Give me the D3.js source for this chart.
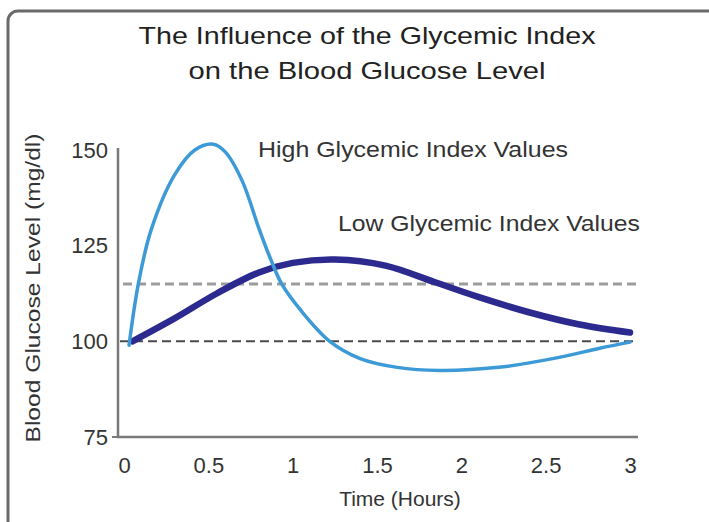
<!DOCTYPE html>
<html>
<head>
<meta charset="utf-8">
<script src="https://cdn.jsdelivr.net/npm/d3@7"></script>
<style>
  body { margin: 0; background: #fff; }
  text { font-family: "Liberation Sans", Arial, sans-serif; fill: #333; }
</style>
</head>
<body>
<div id="chart"></div>
<script>
// data (time in hours, glucose in mg/dl)
var highGI = [
  [0.03, 99], [0.085, 115], [0.16, 129], [0.3, 143.5], [0.42, 150],
  [0.53, 151.5], [0.6, 149.5], [0.7, 142], [0.8, 129.5], [0.86, 122.5],
  [0.935, 115], [1.05, 108], [1.22, 100], [1.4, 95.5], [1.62, 93.2],
  [1.87, 92.4], [2.22, 93.2], [2.58, 95.8], [2.82, 98.2], [3, 99.8]
]
var lowGI = [
  [0.05, 100], [0.3, 106], [0.55, 112.5], [0.8, 118], [1.0, 120.5],
  [1.25, 121.4], [1.55, 119.8], [1.84, 115.5], [2.1, 111.6], [2.4, 107.6],
  [2.7, 104.4], [3, 102.3]
]
var refLines = [100, 115]
var xTicks = [0, 0.5, 1, 1.5, 2, 2.5, 3]
var yTicks = [75, 100, 125, 150]
var titleLines = ["The Influence of the Glycemic Index", "on the Blood Glucose Level"]

var width = 709
var height = 522

var svg = d3.select("#chart")
  .append("svg")
    .attr("width", width)
    .attr("height", height)

// frame (runs off the right and bottom edges)
svg.append("rect")
  .attr("x", 8).attr("y", 11)
  .attr("width", 800).attr("height", 600)
  .attr("rx", 10)
  .style("fill", "none")
  .style("stroke", "#6a6a6a")
  .style("stroke-width", 3)

var x = d3.scaleLinear().domain([0, 3]).range([124, 630])
var y = d3.scaleLinear().domain([75, 150]).range([437, 150])

// title
svg.selectAll("title-text")
  .data(titleLines)
  .enter().append("text")
    .attr("x", 367)
    .attr("y", (d, i) => 44 + i * 35)
    .attr("text-anchor", "middle")
    .style("font-size", "24px")
    .style("fill", "#222")
    .attr("textLength", (d, i) => i == 0 ? 457 : 357)
    .attr("lengthAdjust", "spacingAndGlyphs")
    .text(d => d)

// axis lines
svg.append("line")
  .attr("x1", x(0) - 6).attr("x2", x(0) - 6)
  .attr("y1", y(150) - 2).attr("y2", y(75) + 1)
  .style("stroke", "#7a7a7a").style("stroke-width", 2.5)

svg.append("line")
  .attr("x1", x(0) - 7).attr("x2", x(3) + 8)
  .attr("y1", y(75)).attr("y2", y(75))
  .style("stroke", "#7a7a7a").style("stroke-width", 2.5)

svg.append("line")
  .attr("x1", x(0) - 12).attr("x2", x(0) - 6)
  .attr("y1", y(75)).attr("y2", y(75))
  .style("stroke", "#7a7a7a").style("stroke-width", 2)

// tick labels
var yAxis = svg.append("g")
  .attr("transform", "translate(" + (x(0) - 14) + ",0)")
  .call(d3.axisLeft(y).tickValues(yTicks).tickSize(0).tickPadding(2))
yAxis.select(".domain").remove()
yAxis.selectAll("text")
  .style("font-size", "22px")
  .style("font-family", "'Liberation Sans', Arial, sans-serif")
  .style("fill", "#333")

var xAxis = svg.append("g")
  .attr("transform", "translate(0," + y(75) + ")")
  .call(d3.axisBottom(x).tickValues(xTicks).tickSize(0).tickPadding(20)
          .tickFormat(d => d))
xAxis.select(".domain").remove()
xAxis.selectAll("text")
  .style("font-size", "22px")
  .style("font-family", "'Liberation Sans', Arial, sans-serif")
  .style("fill", "#333")

// axis titles
svg.append("text")
  .attr("x", 400).attr("y", 506)
  .attr("text-anchor", "middle")
  .style("font-size", "21px")
  .text("Time (Hours)")

svg.append("text")
  .attr("transform", "translate(40,288) rotate(-90)")
  .attr("text-anchor", "middle")
  .style("font-size", "21px")
  .attr("textLength", 309)
  .attr("lengthAdjust", "spacingAndGlyphs")
  .text("Blood Glucose Level (mg/dl)")

// dashed reference lines
svg.selectAll("ref")
  .data(refLines)
  .enter().append("line")
    .attr("x1", d => d == 100 ? x(0) - 4 : x(0) - 1)
    .attr("x2", d => d == 100 ? x(3) + 4 : x(3) + 7)
    .attr("y1", d => y(d)).attr("y2", d => y(d))
    .style("stroke", d => d == 100 ? "#4a4a4a" : "#9c9c9c")
    .style("stroke-width", d => d == 100 ? 2 : 3)
    .style("stroke-dasharray", "9,5")

var line = d3.line()
  .curve(d3.curveCatmullRom.alpha(0.5))
  .x(d => x(d[0]))
  .y(d => y(d[1]))

svg.append("path")
  .attr("d", line(lowGI))
  .style("fill", "none")
  .style("stroke", "#2c2a8e")
  .style("stroke-width", 6.5)
  .style("stroke-linecap", "round")

svg.append("path")
  .attr("d", line(highGI))
  .style("fill", "none")
  .style("stroke", "#3c9ad6")
  .style("stroke-width", 3.5)
  .style("stroke-linecap", "round")

// series labels
svg.append("text")
  .attr("x", 258).attr("y", 157)
  .style("font-size", "22px")
  .attr("textLength", 310)
  .attr("lengthAdjust", "spacingAndGlyphs")
  .text("High Glycemic Index Values")

svg.append("text")
  .attr("x", 338).attr("y", 231)
  .style("font-size", "22px")
  .attr("textLength", 302)
  .attr("lengthAdjust", "spacingAndGlyphs")
  .text("Low Glycemic Index Values")
</script>
</body>
</html>
